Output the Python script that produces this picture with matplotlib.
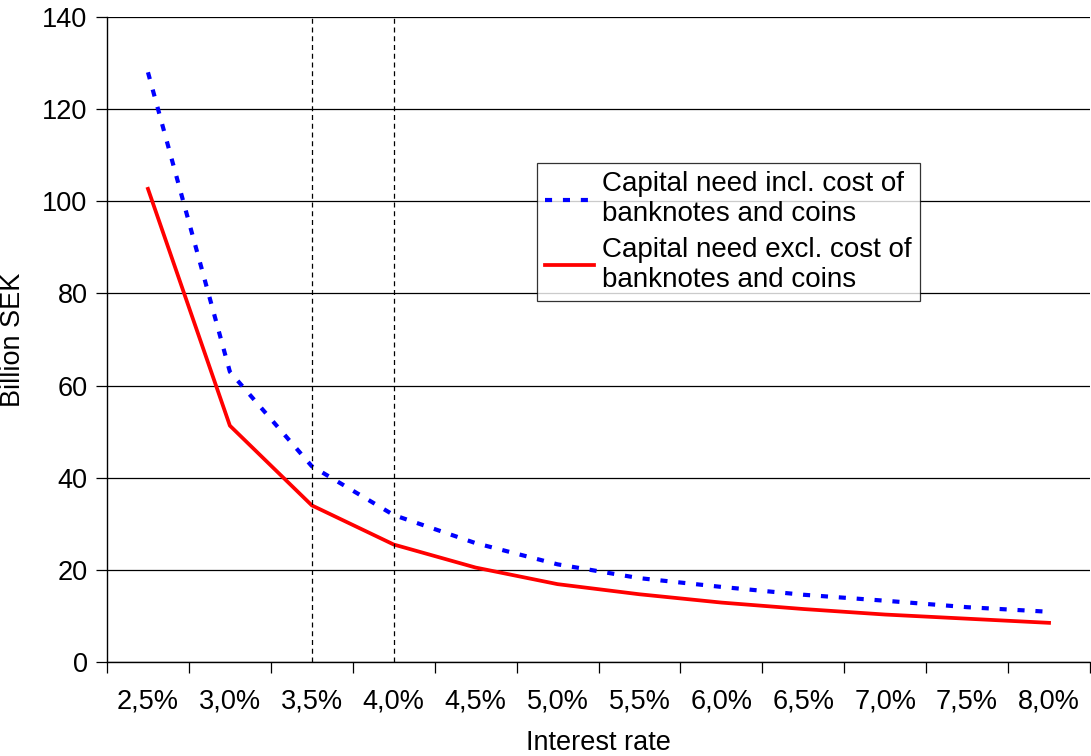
import matplotlib
matplotlib.use("Agg")
import matplotlib.pyplot as plt
import numpy as np

plt.rcParams['font.family'] = ['Liberation Sans', 'DejaVu Sans']

rates = ["2,5%", "3,0%", "3,5%", "4,0%", "4,5%", "5,0%",
         "5,5%", "6,0%", "6,5%", "7,0%", "7,5%", "8,0%"]
incl_cost = [128.0, 63.0, 42.5, 31.9, 25.8, 21.2, 18.2, 16.3, 14.6, 13.3, 11.9, 10.9]
excl_cost = [102.7, 51.3, 34.0, 25.5, 20.5, 16.9, 14.7, 12.9, 11.5, 10.3, 9.4, 8.5]
marked_rates = ["3,5%", "4,0%"]

x = np.arange(len(rates))

fig = plt.figure(figsize=(10.91, 7.56), dpi=100)
ax = fig.add_axes([107 / 1091, 1 - 662 / 756, 983 / 1091, 645 / 756])

ax.plot(x, incl_cost, color='#0000ff', lw=3.0, linestyle=(0, (1.7, 2.6)),
        label='Capital need incl. cost of\nbanknotes and coins')
ax.plot(x, excl_cost, color='#ff0000', lw=2.7,
        label='Capital need excl. cost of\nbanknotes and coins')

for r in marked_rates:
    ax.axvline(rates.index(r), color='black', lw=0.9, linestyle=(0, (4, 3)))

ax.set_xlim(-0.5, len(rates) - 0.5)
ax.set_ylim(0, 140)
ax.set_yticks(np.arange(0, 141, 20))
ax.yaxis.grid(True, color='black', lw=0.9)
ax.set_axisbelow(True)

ax.set_xticks(x)
ax.set_xticklabels(rates)
ax.set_xticks(np.arange(-0.5, len(rates)), minor=True)
ax.tick_params(axis='x', which='major', length=0, pad=19, labelsize=19.5)
ax.tick_params(axis='x', which='minor', length=8, width=0.9, direction='out')
ax.tick_params(axis='y', length=8, width=0.9, labelsize=19.5, pad=6)

for s in ['top', 'right']:
    ax.spines[s].set_visible(False)
for s in ['left', 'bottom']:
    ax.spines[s].set_linewidth(1.0)

ax.set_ylabel('Billion SEK', fontsize=19.5, labelpad=12)
ax.set_xlabel('Interest rate', fontsize=19.5, labelpad=11)

leg = ax.legend(loc='upper left', bbox_to_anchor=((537 - 107) / 983, (662 - 163) / 645),
                fontsize=20, frameon=True, fancybox=False, edgecolor='black',
                handlelength=1.75, handletextpad=0.3, borderpad=0.3,
                labelspacing=0.35, borderaxespad=0)
leg.get_frame().set_linewidth(0.9)

fig.savefig('out.png', dpi=100)
